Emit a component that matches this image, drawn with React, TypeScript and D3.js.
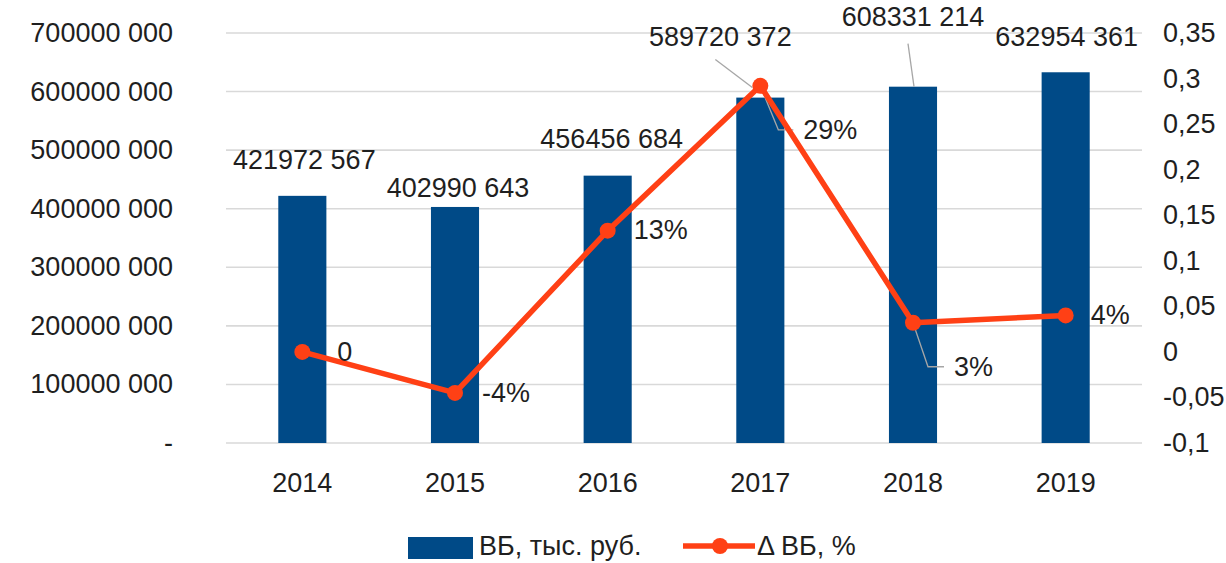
import * as d3 from 'd3';

const years = ['2014', '2015', '2016', '2017', '2018', '2019'];
const vbValues = [421972567, 402990643, 456456684, 589720372, 608331214, 632954361];
const deltaValues = [0, -0.045, 0.133, 0.292, 0.032, 0.040];
const leftTicks = [0, 100e6, 200e6, 300e6, 400e6, 500e6, 600e6, 700e6];
const rightTicks = [-0.1, -0.05, 0, 0.05, 0.1, 0.15, 0.2, 0.25, 0.3, 0.35];
const seriesNames = ['ВБ, тыс. руб.', 'Δ ВБ, %'];

// label placement tweaks (offsets from the mark), like the hand-moved labels in the original
const barLabelShift = [[2, -36], [3, -19], [4, -37], [-40, -61], [0, -70], [1, -35]];
const lineLabelShift = [[35, 0], [27, 0], [26, -1], [43, 44], [41, 44], [25, 0]];

const BAR = '#004a87';
const LINE = '#ff4015';
const TEXT = '#1f1f1f';
const FONT = '"Liberation Sans", Arial, sans-serif';
const FS = 27;

const fmtBig = (v: number) =>
  v === 0 ? '-' : `${Math.floor(v / 1000)} ${String(v % 1000).padStart(3, '0')}`;
const fmtRight = (v: number) => String(+v.toFixed(2)).replace('.', ',');
const fmtPct = (v: number, i: number) => (i === 0 ? '0' : `${Math.round(v * 100)}%`);

export default function App() {
  const width = 1226;
  const height = 563;
  const left = 226, right = 1142, top = 33, bottom = 443;

  const x = d3.scaleBand().domain(years).range([left, right]).padding(0);
  const yL = d3.scaleLinear().domain([0, 700e6]).range([bottom, top]);
  const yR = d3.scaleLinear().domain([-0.1, 0.35]).range([bottom, top]);
  const barW = x.bandwidth() * 0.315;
  const cx = (y: string) => (x(y) as number) + x.bandwidth() / 2;

  const line = d3.line<number>()
    .x((_, i) => cx(years[i]))
    .y((d) => yR(d));

  const p17 = { x: cx('2017'), y: yR(deltaValues[3]) };
  const p18 = { x: cx('2018'), y: yR(deltaValues[4]) };
  const legendY = 546;

  return (
    <svg width={width} height={height} style={{ position: 'absolute', left: 0, top: 0, background: '#fff' }}
      fontFamily={FONT} fontSize={FS} fill={TEXT}>
      {/* gridlines */}
      {leftTicks.map((t) => (
        <line key={t} x1={left} x2={right} y1={yL(t)} y2={yL(t)} stroke="#d9d9d9" strokeWidth={1.6} />
      ))}
      {/* left axis */}
      {leftTicks.map((t) => (
        <text key={t} x={173} y={yL(t)} textAnchor="end" dominantBaseline="central">{fmtBig(t)}</text>
      ))}
      {/* right axis */}
      {rightTicks.map((t) => (
        <text key={t} x={1163} y={yR(t)} dominantBaseline="central">{fmtRight(t)}</text>
      ))}
      {/* x axis labels */}
      {years.map((y) => (
        <text key={y} x={cx(y)} y={483} textAnchor="middle" dominantBaseline="central">{y}</text>
      ))}

      {/* bars */}
      {vbValues.map((v, i) => (
        <rect key={i} x={cx(years[i]) - barW / 2} y={yL(v)} width={barW} height={bottom - yL(v)} fill={BAR} />
      ))}

      {/* leader lines */}
      <g stroke="#a6a6a6" strokeWidth={1.3} fill="none">
        <path d={`M${p17.x - 45},${yL(vbValues[3]) - 38} L${p17.x - 8},${yL(vbValues[3]) - 10}`} />
        <path d={`M${cx('2018') - 5},${yL(vbValues[4]) - 43} L${cx('2018') + 1},${yL(vbValues[4])}`} />
        <path d={`M${p17.x},${p17.y} L${p17.x + 18},${p17.y + 44} L${p17.x + 33},${p17.y + 44}`} />
        <path d={`M${p18.x},${p18.y} L${p18.x + 15},${p18.y + 44} L${p18.x + 31},${p18.y + 44}`} />
      </g>

      {/* bar labels */}
      {vbValues.map((v, i) => (
        <text key={i} x={cx(years[i]) + barLabelShift[i][0]} y={yL(v) + barLabelShift[i][1]}
          textAnchor="middle" dominantBaseline="central">{fmtBig(v)}</text>
      ))}

      {/* line */}
      <path d={line(deltaValues) || ''} fill="none" stroke={LINE} strokeWidth={5.5} strokeLinejoin="round" />
      {deltaValues.map((d, i) => (
        <circle key={i} cx={cx(years[i])} cy={yR(d)} r={8} fill={LINE} />
      ))}
      {deltaValues.map((d, i) => (
        <text key={i} x={cx(years[i]) + lineLabelShift[i][0]} y={yR(d) + lineLabelShift[i][1]}
          dominantBaseline="central">{fmtPct(d, i)}</text>
      ))}

      {/* legend */}
      <rect x={408} y={legendY - 9} width={65} height={22} fill={BAR} />
      <text x={479} y={legendY} dominantBaseline="central">{seriesNames[0]}</text>
      <line x1={683} x2={755} y1={legendY} y2={legendY} stroke={LINE} strokeWidth={5.5} />
      <circle cx={720} cy={legendY} r={8} fill={LINE} />
      <text x={757} y={legendY} dominantBaseline="central">{seriesNames[1]}</text>
    </svg>
  );
}
